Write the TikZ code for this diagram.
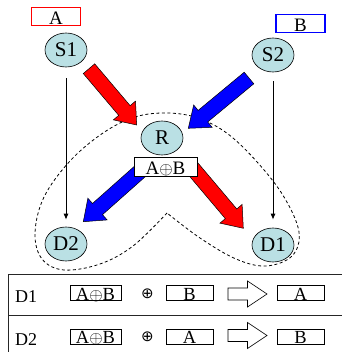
\documentclass[tikz,border=0pt]{standalone}
\usepackage{fontspec}
\setmainfont{Liberation Serif}
\newfontfamily\symbolfont{DejaVu Sans}
\usetikzlibrary{calc,arrows.meta,shapes.geometric}

\definecolor{nodefill}{RGB}{186,224,228}
\definecolor{arrowred}{RGB}{255,0,0}
\definecolor{arrowblue}{RGB}{0,0,255}

% Fat block arrow from #1 to #2, filled with #3
\newcommand\blockarrow[3]{%
  \coordinate (#1-neck) at ($(#2)!19pt!(#1)$);
  \filldraw[draw=black, fill=#3, line width=0.5pt, line join=miter]
    ($(#1)!7.5pt!90:(#2)$) -- ($(#1-neck)!7.5pt!90:(#2)$)
    -- ($(#1-neck)!14.5pt!90:(#2)$) -- (#2)
    -- ($(#1-neck)!14.5pt!-90:(#2)$) -- ($(#1-neck)!7.5pt!-90:(#2)$)
    -- ($(#1)!7.5pt!-90:(#2)$) -- cycle;
}

\tikzset{
  station/.style={ellipse, draw, line width=0.6pt, fill=nodefill, inner sep=0pt,
    minimum width=42pt, minimum height=34pt, font=\fontsize{21}{23}\selectfont},
  tag/.style={draw, line width=1.4pt, inner sep=0pt, text height=16.5pt, text depth=0pt,
    minimum width=49pt, minimum height=18pt, font=\fontsize{19}{21}\selectfont},
  xorbox/.style={draw, line width=0.6pt, fill=white, inner sep=0pt, text height=17pt,
    text depth=0pt, minimum width=63pt, minimum height=19pt, font=\fontsize{19}{21}\selectfont},
  tbox/.style={draw, line width=0.6pt, inner sep=0pt, text height=14.5pt, text depth=0pt,
    minimum width=47pt, minimum height=14pt, font=\fontsize{18.5}{20}\selectfont},
  rowlabel/.style={anchor=base west, inner sep=0pt, font=\fontsize{18}{20}\selectfont},
  xorsign/.style={inner sep=0pt, font=\symbolfont\fontsize{15}{15}\selectfont},
  thin/.style={draw, line width=0.9pt, -{Latex[length=6pt,width=5pt]}},
  outline/.style={draw, line width=0.8pt, dash pattern=on 3pt off 2.5pt},
  rule/.style={draw, line width=1pt, black!85},
  hollowarrow/.pic={
    \draw[line width=0.6pt, fill=white] (-19.5,-6) -- (0,-6) -- (0,-13) -- (19.5,0)
      -- (0,13) -- (0,6) -- (-19.5,6) -- cycle;}
}

\begin{document}
\begin{tikzpicture}[x=1pt, y=-1pt]
\useasboundingbox (0,0) rectangle (342,352);

% dashed boundary around the relay and both destinations
\draw[outline] plot[smooth, tension=0.6] coordinates {
  (167,213) (133,246) (100,264) (64,270) (42,259) (35,233) (44,197) (70,161)
  (103,133) (135,117) (167,113) (198,118) (228,134) (258,163) (284,197)
  (299,232) (292,256) (266,266) (236,259) (200,238) (167,213)};

% stations
\node[station] (S1) at (66,50) {S1};
\node[station] (S2) at (273,55) {S2};
\node[station] (R)  at (162,138) {R};
\node[station] (D2) at (66,244) {D2};
\node[station] (D1) at (273,245) {D1};

% source packets
\node[tag, draw=red]  (tagA) at (56,16.5) {A};
\node[tag, draw=blue] (tagB) at (300.5,23.5) {B};

% direct overheard links
\draw[thin] ([yshift=-11pt]S1.south) -- ([yshift=7pt]D2.north);
\draw[thin] ([yshift=-9pt]S2.south) -- ([yshift=8pt]D1.north);

% uplink transmissions
\coordinate (a1) at (89,68.7);   \coordinate (a1h) at (136.7,125);
\coordinate (b1) at (249,78);    \coordinate (b1h) at (188.3,128.3);
\blockarrow{a1}{a1h}{arrowred}
\blockarrow{b1}{b1h}{arrowblue}

% broadcast from the relay
\coordinate (b2) at (146,166);   \coordinate (b2h) at (83.3,221.7);
\coordinate (a2) at (189,164);   \coordinate (a2h) at (243.3,228.3);
\blockarrow{b2}{b2h}{arrowblue}
\blockarrow{a2}{a2h}{arrowred}

\node[xorbox] (xor) at (165.5,166.5) {A$\oplus$B};

% decoding table
\draw[rule] (8,352) -- (8,274) -- (342,274);
\draw[rule] (8,315) -- (342,315);

\node[rowlabel] (r1) at (15,302.3) {D1};
\node[tbox, minimum width=51pt] (r1x) at (95.5,293) {A$\oplus$B};
\node[xorsign] (r1p) at (147.5,294) {⊕};
\node[tbox] (r1k) at (189.5,293) {B};
\pic at (247.5,294) {hollowarrow};
\node[tbox] (r1o) at (300.5,293) {A};

\node[rowlabel] (r2) at (15,345) {D2};
\node[tbox, minimum width=51pt] (r2x) at (95.5,336.7) {A$\oplus$B};
\node[xorsign] (r2p) at (147.5,337) {⊕};
\node[tbox] (r2k) at (189.5,336.7) {A};
\pic at (247.5,335.5) {hollowarrow};
\node[tbox] (r2o) at (300.5,336.7) {B};
\end{tikzpicture}
\end{document}
